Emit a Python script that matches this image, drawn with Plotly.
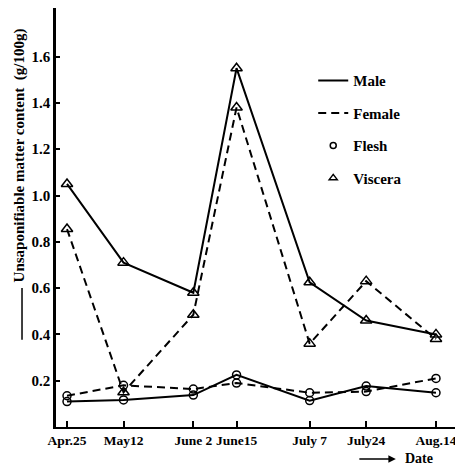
import plotly.graph_objects as go

# sampling dates and tick labels
dates = ["1980-04-25", "1980-05-12", "1980-06-02", "1980-06-15",
         "1980-07-07", "1980-07-24", "1980-08-14"]
date_labels = ["Apr.25", "May12", "June 2", "June15", "July 7", "July24", "Aug.14"]

# unsaponifiable matter content, g/100g
male_viscera = [1.05, 0.71, 0.58, 1.55, 0.625, 0.46, 0.40]
female_viscera = [0.855, 0.15, 0.485, 1.38, 0.36, 0.63, 0.38]
male_flesh = [0.11, 0.117, 0.138, 0.225, 0.114, 0.177, 0.148]
female_flesh = [0.135, 0.18, 0.164, 0.19, 0.148, 0.153, 0.21]

y_ticks = [0.2, 0.4, 0.6, 0.8, 1.0, 1.2, 1.4, 1.6]

FONT = "Liberation Serif"
solid = dict(color="black", width=2)
dashed = dict(color="black", width=2, dash="8px,5px")
circle = dict(symbol="circle-open", size=8, color="black", line=dict(width=1.5))
tri = dict(symbol="triangle-up-open", size=10, color="black", line=dict(width=1.5))

fig = go.Figure()
for ys, line, mk in [
    (male_viscera, solid, tri),
    (female_viscera, dashed, tri),
    (male_flesh, solid, circle),
    (female_flesh, dashed, circle),
]:
    fig.add_trace(go.Scatter(x=dates, y=ys, mode="lines+markers", line=line,
                             marker=mk, showlegend=False))

# legend-only entries
fig.add_trace(go.Scatter(x=[None], y=[None], mode="lines", line=solid,
                         name="Male", legendgroup="a"))
fig.add_trace(go.Scatter(x=[None], y=[None], mode="lines", line=dashed,
                         name="Female", legendgroup="b"))
fig.add_trace(go.Scatter(x=[None], y=[None], mode="markers",
                         marker=dict(symbol="circle-open", size=6, color="black", line=dict(width=1.5)),
                         name="Flesh", legendgroup="c"))
fig.add_trace(go.Scatter(x=[None], y=[None], mode="markers",
                         marker=dict(symbol="triangle-up-open", size=7, color="black", line=dict(width=1.5)),
                         name="Viscera", legendgroup="d"))

# the page body shifts the figure by 8px, so it is drawn 8px smaller
fig.update_layout(
    width=455, height=458,
    margin=dict(l=48, r=0, t=0, b=39, autoexpand=False),
    paper_bgcolor="white", plot_bgcolor="white",
    font=dict(family=FONT, size=13, color="black"),
    legend=dict(x=0.632, y=0.866, xanchor="left", yanchor="top",
                tracegroupgap=10, bgcolor="rgba(0,0,0,0)",
                font=dict(family=FONT, size=15, color="black", weight="bold")),
    xaxis=dict(
        type="date", range=["1980-04-21 16:30", "1980-08-22 03:00"],
        tickvals=dates, ticktext=date_labels, automargin=False, tickangle=0,
        ticks="inside", ticklen=6, tickcolor="black", tickwidth=1.5,
        showline=True, linecolor="black", linewidth=1.5,
        showgrid=False, zeroline=False,
        tickfont=dict(family=FONT, size=13.5, weight="bold"),
    ),
    yaxis=dict(
        range=[0, 1.81], tickvals=y_ticks, ticktext=[f"{v:.1f}" for v in y_ticks],
        automargin=False,
        ticks="inside", ticklen=4, tickcolor="black", tickwidth=1.5,
        showline=True, linecolor="black", linewidth=2.5,
        showgrid=False, zeroline=False,
        tickfont=dict(family=FONT, size=15, weight="bold"),
    ),
)

# y-axis title with leading line
fig.add_annotation(xref="paper", yref="paper", x=-0.09, y=0.649,
                   xanchor="center", yanchor="middle",
                   text="Unsaponifiable matter content  (g/100g)", textangle=-90,
                   showarrow=False, font=dict(family=FONT, size=15, weight="bold"))
fig.add_shape(type="line", xref="paper", yref="paper",
              x0=-0.0835, x1=-0.0835, y0=0.208, y1=0.332,
              line=dict(color="black", width=1.5))

# x-axis title with arrow
fig.add_annotation(xref="paper", yref="paper", x=0.835, y=-0.0764,
                   ax=-38, ay=0, text="", showarrow=True,
                   arrowhead=2, arrowsize=1, arrowwidth=1.5, arrowcolor="black")
fig.add_annotation(xref="paper", yref="paper", x=0.892, y=-0.0745,
                   xanchor="center", yanchor="middle",
                   text="Date", showarrow=False,
                   font=dict(family=FONT, size=14, weight="bold"))

fig.write_html("out.html")
